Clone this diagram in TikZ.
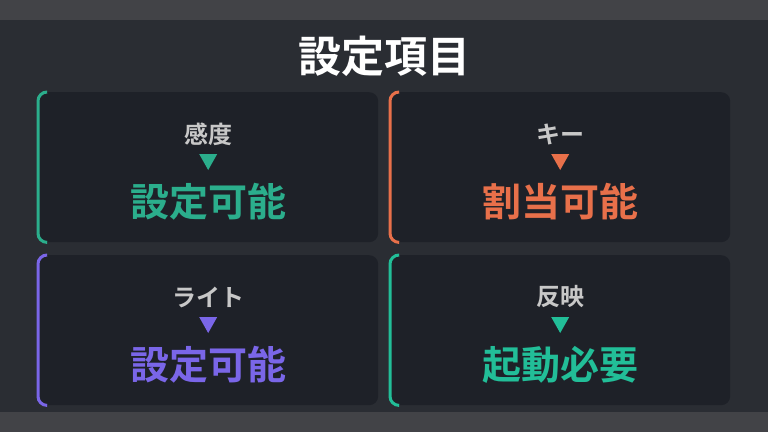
\documentclass[tikz,border=0pt]{standalone}
\usepackage{fontspec}
\newfontfamily\cjk{Noto Sans CJK JP Bold}
\usetikzlibrary{positioning}
\definecolor{bgdark}{HTML}{2A2D33}
\definecolor{paneldark}{HTML}{1D2027}
\definecolor{labelgray}{HTML}{C8C8C8}
\definecolor{accgreen}{HTML}{2BAE8C}
\definecolor{accorange}{HTML}{E8704A}
\definecolor{accpurple}{HTML}{7A66E8}
\definecolor{accteal}{HTML}{22BE98}
\tikzset{
  panel/.style={draw=none, fill=paneldark, fill opacity=0.9, rounded corners=9pt,
    minimum width=340pt, minimum height=150pt, anchor=north west, inner sep=0pt},
  small/.style={font=\cjk\fontsize{24}{24}\selectfont, text=labelgray},
  big/.style={font=\cjk\fontsize{39}{39}\selectfont},
}
\newcommand{\mypanel}[6]{%
  \node[panel] (#6) at (#1,#2) {};
  \draw[#3, line width=3pt, rounded corners=9pt]
    ([xshift=8pt]#6.north west) -- (#6.north west) -- (#6.south west) -- ([xshift=8pt]#6.south west);
  \node[small] (#6l) at ([yshift=-42pt]#6.north) {#4};
  \fill[#3] ([xshift=-9pt,yshift=-62pt]#6.north) -- ([xshift=9pt,yshift=-62pt]#6.north)
    -- ([yshift=-78pt]#6.north) -- cycle;
  \node[big, text=#3] (#6v) at ([yshift=-110pt]#6.north) {#5};
}
\begin{document}
\begin{tikzpicture}[x=1pt,y=-1pt]
  \fill[bgdark] (0,0) rectangle (768,432);
  \fill[black!60, opacity=0.4] (0,0) rectangle (768,20);
  \fill[black!60, opacity=0.4] (0,412) rectangle (768,432);
  \node[font=\cjk\fontsize{43}{43}\selectfont, text=white] (title) at (384,56) {設定項目};
  \mypanel{38}{92}{accgreen}{感度}{設定可能}{sens}
  \mypanel{390}{92}{accorange}{キー}{割当可能}{key}
  \mypanel{38}{255}{accpurple}{ライト}{設定可能}{light}
  \mypanel{390}{255}{accteal}{反映}{起動必要}{apply}
\end{tikzpicture}
\end{document}
